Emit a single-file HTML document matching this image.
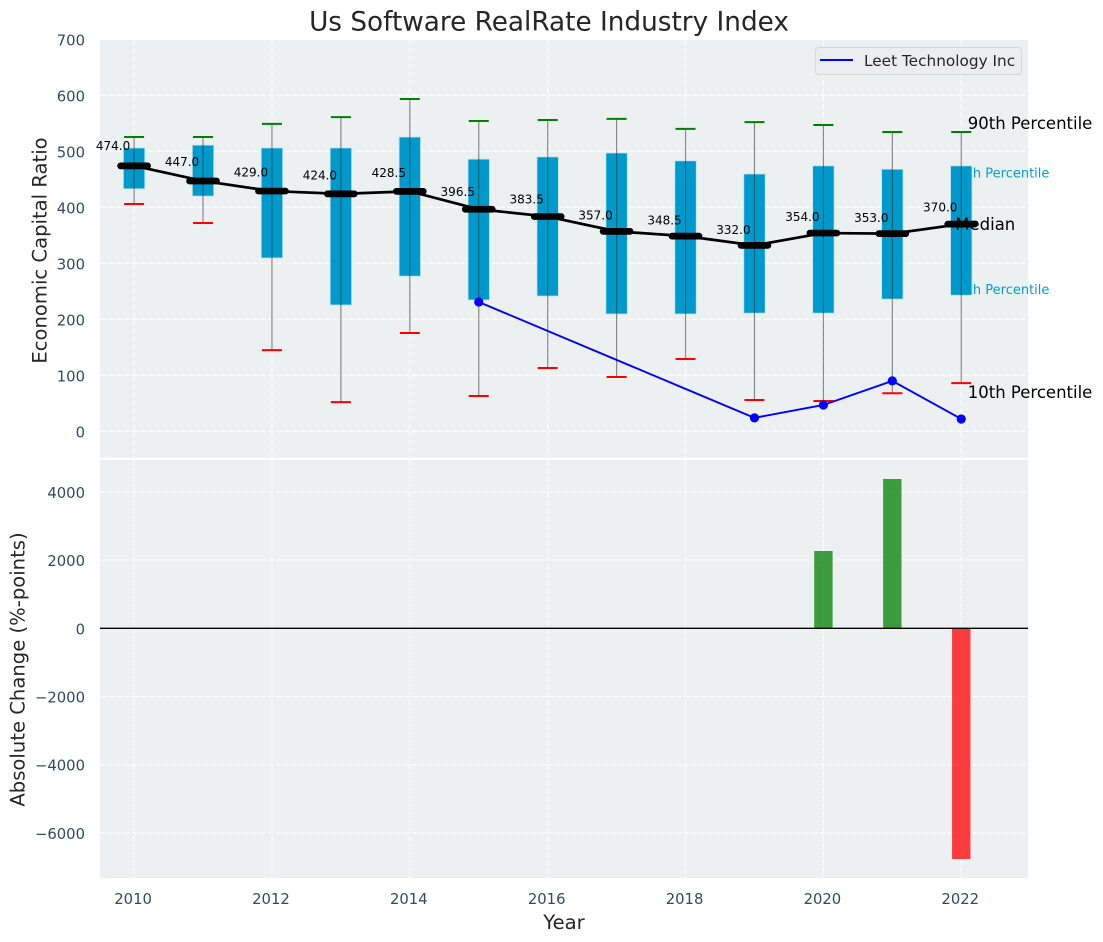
<!DOCTYPE html>
<html>
<head>
<meta charset="utf-8">
<title>Us Software RealRate Industry Index</title>
<style>
html,body{margin:0;padding:0;background:#fff;width:1103px;height:942px;overflow:hidden}
svg{display:block;font-family:"DejaVu Sans","Liberation Sans",sans-serif}
</style>
</head>
<body>
<svg id="chart" width="1103" height="942" viewBox="0 0 1103 942" xmlns="http://www.w3.org/2000/svg">
  <rect x="100" y="40" width="928" height="417.7" fill="#ecf0f1"/>
  <rect x="100" y="460" width="928" height="418" fill="#ecf0f1"/>
  <g id="grid"></g>
  <g id="labels-under"></g>
  <g id="bars"></g>
  <g id="boxes"></g>
  <g id="company"></g>
  <g id="ticks"></g>
  <g id="labels-over"></g>
  <text x="549" y="30.5" font-size="26.3" text-anchor="middle" fill="#262626">Us Software RealRate Industry Index</text>
  <text transform="translate(46.5 250.5) rotate(-90)" font-size="19.6" text-anchor="middle" fill="#262626">Economic Capital Ratio</text>
  <text transform="translate(24.5 669.5) rotate(-90)" font-size="19.6" text-anchor="middle" fill="#262626">Absolute Change (%-points)</text>
  <text x="564" y="929" font-size="19.6" text-anchor="middle" fill="#262626">Year</text>
  <g>
    <rect x="815.5" y="47.5" width="206" height="27" rx="3" fill="#ecedf1" stroke="#d5d7d9" stroke-width="1"/>
    <line x1="820" y1="60" x2="853" y2="60" stroke="#0000ff" stroke-width="2"/>
    <text x="864" y="66" font-size="15.3" fill="#262626">Leet Technology Inc</text>
  </g>
</svg>
<script>
const years = [2010,2011,2012,2013,2014,2015,2016,2017,2018,2019,2020,2021,2022];
const medians = [474,447,429,424,428.5,396.5,383.5,357,348.5,332,354,353,370];
const p75 = [506,511,506,506,525.5,486,490,497,483,459.5,474,468,474];
const p25 = [433,420,309.5,225.5,277,234.5,241.5,209.5,209.5,211,211,236,243];
const p90 = [525.5,525.5,549,561,593.5,554,556,558,540,552,547,534.5,534.5];
const p10 = [406,372,145,52,175.5,63,113,97,129,56,54,68,86];
const companyValues = [null,null,null,null,null,231,null,null,null,24,47,90,22];
const changeValues = [null,null,null,null,null,null,null,null,null,null,2267,4378,-6765];
const xTicks = [2010,2012,2014,2016,2018,2020,2022];
const yTopTicks = [0,100,200,300,400,500,600,700];
const yBottomTicks = [-6000,-4000,-2000,0,2000,4000];

const NS = 'http://www.w3.org/2000/svg';
function xScale(year){ return 134.1 + (year - 2010) * 68.93; }
function yTop(v){ return 431.3 - v * 0.56; }
function yBottom(v){ return 628.3 - v * 0.0341; }
function make(tag, parent, attrs, text){
  const el = document.createElementNS(NS, tag);
  for (const k in attrs) el.setAttribute(k, attrs[k]);
  if (text !== undefined) el.textContent = text;
  parent.appendChild(el);
  return el;
}
function fmtTick(v){ return v < 0 ? '\u2212' + Math.abs(v) : String(v); }

const gridG = document.getElementById('grid');
const ticksG = document.getElementById('ticks');
const barsG = document.getElementById('bars');
const boxesG = document.getElementById('boxes');
const companyG = document.getElementById('company');
const underG = document.getElementById('labels-under');
const overG = document.getElementById('labels-over');
const gridStyle = {stroke:'#ffffff','stroke-width':1.1,'stroke-dasharray':'5.5 2.5','stroke-opacity':0.9};

xTicks.forEach(function(t){
  const x = xScale(t);
  const a = make('line', gridG, Object.assign({x1:x,x2:x,y1:40,y2:457.7}, gridStyle));
  
  
  const b = make('line', gridG, Object.assign({x1:x,x2:x,y1:460,y2:878}, gridStyle));
  
  
  const l = make('text', ticksG, {x:x-1,y:904,'font-size':14.8,'text-anchor':'middle',fill:'#34495e'}, String(t));
  
  
});
yTopTicks.forEach(function(t){
  const y = yTop(t);
  if (y >= 40) {
    const a = make('line', gridG, Object.assign({x1:100,x2:1028,y1:y,y2:y}, gridStyle));
    
    
  }
  const l = make('text', ticksG, {x:85,y:y+6,'font-size':14.8,'text-anchor':'end',fill:'#34495e'}, fmtTick(t));
  
  
});
yBottomTicks.forEach(function(t){
  const y = yBottom(t);
  const a = make('line', gridG, Object.assign({x1:100,x2:1028,y1:y,y2:y}, gridStyle));
  
  
  const l = make('text', ticksG, {x:85,y:y+6,'font-size':14.8,'text-anchor':'end',fill:'#34495e'}, fmtTick(t));
  
  
});

const lastIdx = years.length - 1;
const lastX = xScale(years[lastIdx]);
const t75 = make('text', underG, {x:lastX-10,y:yTop(p75[lastIdx])+11.5,'font-size':13,fill:'#00a0d0'}, '75th Percentile');


const t25 = make('text', underG, {x:lastX-10,y:yTop(p25[lastIdx])-1,'font-size':13,fill:'#00a0d0'}, '25th Percentile');



changeValues.forEach(function(v,i){
  if (v === null) return;
  const x = xScale(years[i]);
  const y0 = yBottom(0), y1 = yBottom(v);
  const bar = make('rect', barsG, {x:x-9.2,y:Math.min(y0,y1),width:18.4,height:Math.abs(y1-y0),fill:v>=0?'#008000':'#ff0000','fill-opacity':0.75});
  
  
});
const zero = make('line', barsG, {x1:100,x2:1028,y1:yBottom(0),y2:yBottom(0),stroke:'#000',"stroke-width":1.3});



years.forEach(function(yr,i){
  const x = xScale(yr);
  const box = make('rect', boxesG, {x:x-10.7,y:yTop(p75[i]),width:21.4,height:yTop(p25[i])-yTop(p75[i]),fill:'#0099cc',stroke:'#bfe3ee','stroke-width':0.8});
  
  
  const w = make('line', boxesG, {x1:x,x2:x,y1:yTop(p90[i]),y2:yTop(p10[i]),stroke:'#333','stroke-opacity':0.55,'stroke-width':1.2});
  
  
  const c1 = make('line', boxesG, {x1:x-10,x2:x+10,y1:yTop(p90[i]),y2:yTop(p90[i]),stroke:'#008000','stroke-width':2});
  
  
  const c2 = make('line', boxesG, {x1:x-10,x2:x+10,y1:yTop(p10[i]),y2:yTop(p10[i]),stroke:'#ff0000','stroke-width':2});
  
  
});

const medianPath = make('polyline', boxesG, {points:years.map(function(yr,i){return xScale(yr)+','+yTop(medians[i]);}).join(' '),fill:'none',stroke:'#000','stroke-width':2.7});


years.forEach(function(yr,i){
  const x = xScale(yr), y = yTop(medians[i]);
  const m = make('line', boxesG, {x1:x-13.5,x2:x+13.5,y1:y,y2:y,stroke:'#000','stroke-width':6.7,'stroke-linecap':'round'});
  
  
  const t = make('text', overG, {x:x-38.2,y:yTop(medians[i]*1.06),'font-size':12,fill:'#000'}, medians[i].toFixed(1));
  
  
});

const companyPts = [];
companyValues.forEach(function(v,i){ if (v !== null) companyPts.push([xScale(years[i]), yTop(v), years[i]]); });
const cl = make('polyline', companyG, {points:companyPts.map(function(p){return p[0]+','+p[1];}).join(' '),fill:'none',stroke:'#0000ff','stroke-width':1.9});


companyPts.forEach(function(p){
  const c = make('circle', companyG, {cx:p[0],cy:p[1],r:4.6,fill:'#0000ff'});
  
  
});

const t90 = make('text', overG, {x:lastX+6.5,y:yTop(p90[lastIdx])-3,'font-size':16.5,fill:'#000'}, '90th Percentile');


const tMed = make('text', overG, {x:lastX-6,y:yTop(medians[lastIdx])+6,'font-size':16.5,fill:'#000'}, 'Median');


const t10 = make('text', overG, {x:lastX+6.5,y:yTop(p10[lastIdx])+15,'font-size':16.5,fill:'#000'}, '10th Percentile');


</script>
</body>
</html>
